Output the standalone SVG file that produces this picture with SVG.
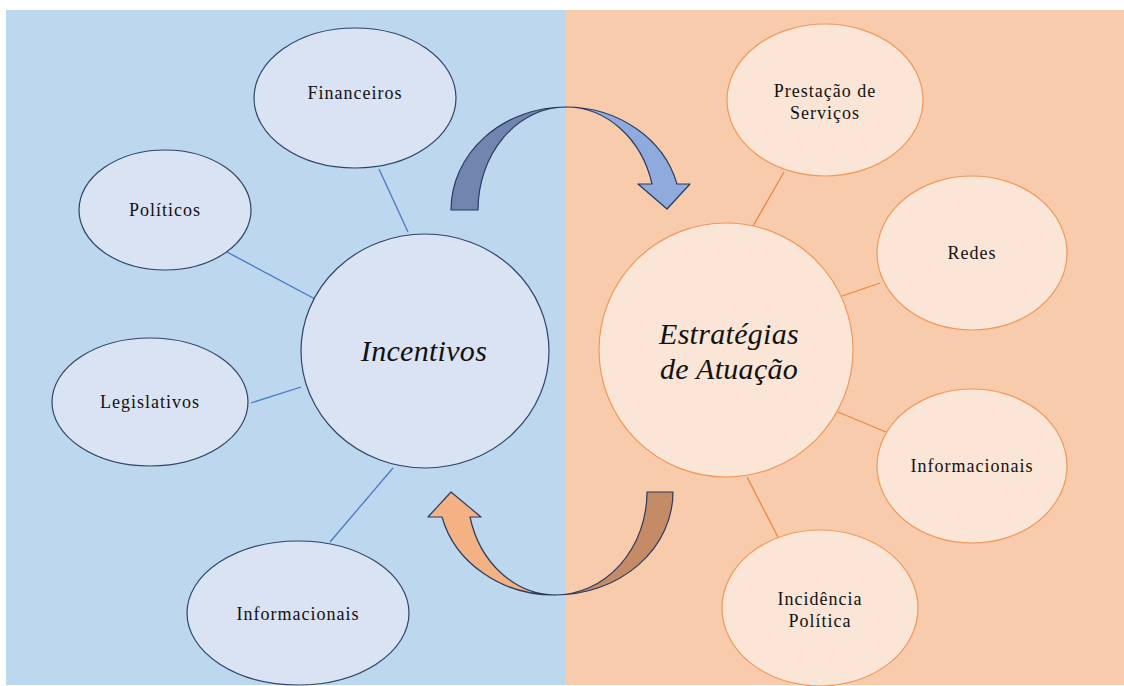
<svg xmlns="http://www.w3.org/2000/svg" width="1124" height="686" viewBox="0 0 1124 686">
<style>
.lbl{font-family:"Liberation Serif","Times New Roman",serif;font-size:18px;letter-spacing:1px;fill:#111;text-anchor:middle}
.big{font-family:"Liberation Serif","Times New Roman",serif;font-size:30px;font-style:italic;letter-spacing:0.3px;fill:#111;text-anchor:middle}
.nb{fill:#DAE3F3;stroke:#2E4468;stroke-width:1.2}
.no{fill:#FBE5D6;stroke:#F0995A;stroke-width:1.2}
.lb{stroke:#4A78C6;stroke-width:1.3}
.lo{stroke:#EE8740;stroke-width:1.3}
.arr{stroke:#2A3A5C;stroke-width:1.2;stroke-linejoin:round}
</style>
<rect x="0" y="0" width="1124" height="686" fill="#FFFFFF"/>
<rect x="6" y="10" width="560" height="675" fill="#BDD7EE"/>
<rect x="566" y="10" width="558" height="675" fill="#F8CBAD"/>
<g id="connectors">
<line class="lb" x1="379" y1="169" x2="408" y2="232"/>
<line class="lb" x1="227" y1="252" x2="315" y2="299"/>
<line class="lb" x1="251" y1="403" x2="301" y2="387"/>
<line class="lb" x1="393" y1="468" x2="330" y2="542"/>
<line class="lo" x1="784" y1="172" x2="753" y2="226"/>
<line class="lo" x1="880" y1="283" x2="842" y2="296"/>
<line class="lo" x1="838" y1="412" x2="886" y2="432"/>
<line class="lo" x1="747" y1="477" x2="780" y2="541"/>
</g>
<g id="node-financeiros"><ellipse class="nb" cx="355" cy="98" rx="101" ry="70"/><text class="lbl" x="355" y="99">Financeiros</text></g>
<g id="node-politicos"><ellipse class="nb" cx="165" cy="210" rx="86" ry="60"/><text class="lbl" x="165" y="216">Políticos</text></g>
<g id="node-legislativos"><ellipse class="nb" cx="150" cy="402" rx="98" ry="64"/><text class="lbl" x="150" y="408">Legislativos</text></g>
<g id="node-informacionais-l"><ellipse class="nb" cx="298" cy="613" rx="111" ry="72"/><text class="lbl" x="298" y="620">Informacionais</text></g>
<g id="node-incentivos"><ellipse class="nb" cx="425" cy="351" rx="124" ry="117"/><text class="big" x="424" y="361">Incentivos</text></g>
<g id="node-estrategias"><circle class="no" cx="726" cy="350" r="127"/><text class="big" x="729" y="344">Estratégias</text><text class="big" x="729" y="379">de Atuação</text></g>
<g id="node-prestacao"><ellipse class="no" cx="825" cy="100" rx="98" ry="76"/><text class="lbl" x="825" y="97">Prestação de</text><text class="lbl" x="825" y="119">Serviços</text></g>
<g id="node-redes"><ellipse class="no" cx="972" cy="253" rx="95" ry="77"/><text class="lbl" x="972" y="259">Redes</text></g>
<g id="node-informacionais-r"><ellipse class="no" cx="972" cy="466" rx="95" ry="77"/><text class="lbl" x="972" y="472">Informacionais</text></g>
<g id="node-incidencia"><ellipse class="no" cx="820" cy="608" rx="98" ry="78"/><text class="lbl" x="820" y="605">Incidência</text><text class="lbl" x="820" y="627">Política</text></g>
<g id="arrow-top">
<path class="arr" fill="#7186AF" d="M451,210 A115,103 0 0 1 566,107 A88,103 0 0 0 478,210 Z"/>
<path class="arr" fill="#8FAADC" d="M566,107 A115,103 0 0 1 677,184 L690,184 L667,209 L638,184 L652,184 A89,103 0 0 0 566,107 Z"/>
</g>
<g id="arrow-bottom">
<path class="arr" fill="#C48B66" d="M673,492 A118,103 0 0 1 555,595 A92,103 0 0 0 647,492 Z"/>
<path class="arr" fill="#F4B183" d="M555,595 A116,103 0 0 1 442,517 L428,517 L451,492 L481,517 L470,517 A88,103 0 0 0 555,595 Z"/>
</g>
</svg>
